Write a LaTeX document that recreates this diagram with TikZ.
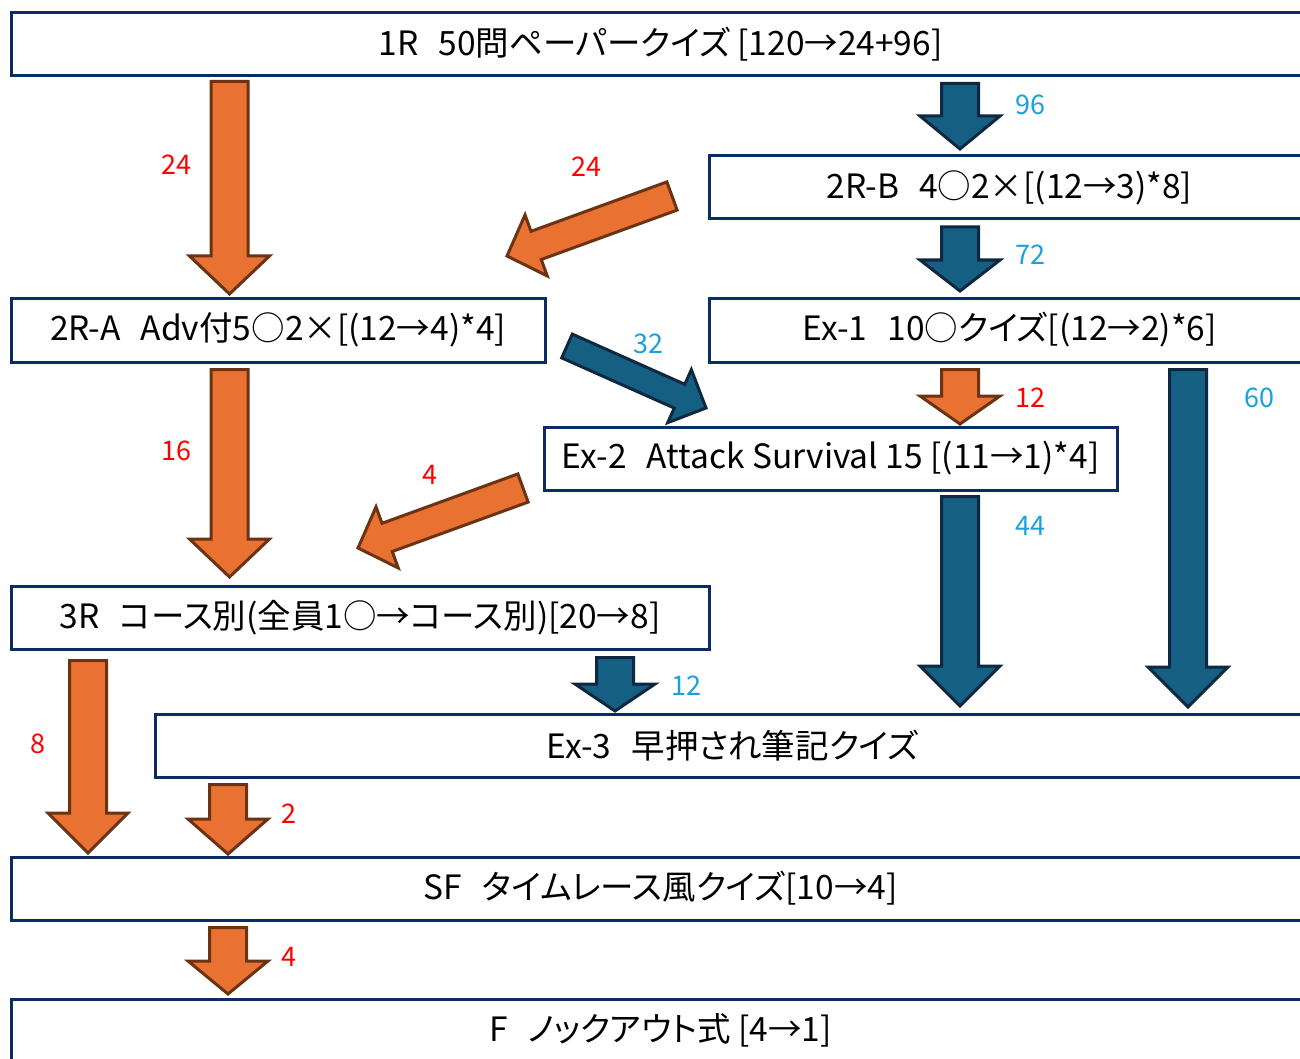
\documentclass[tikz,border=0pt]{standalone}
\usepackage{fontspec}
\setmainfont{Noto Sans CJK JP}[RawFeature=+palt]
\usetikzlibrary{calc}
\definecolor{orF}{HTML}{E97132}
\definecolor{orD}{HTML}{6B3312}
\definecolor{blF}{HTML}{156082}
\definecolor{blD}{HTML}{0E2841}
\definecolor{boxC}{HTML}{0C2A63}
\definecolor{labR}{HTML}{FF0000}
\definecolor{labB}{HTML}{1AA1DA}
\tikzset{
  stage/.style={draw=boxC, line width=3pt, fill=white, inner sep=0pt,
    font=\fontsize{33.5}{40}\selectfont, text=black},
  orarrow/.style={fill=orF, draw=orD, line width=3pt, line join=miter},
  blarrow/.style={fill=blF, draw=blD, line width=3pt, line join=miter},
  lr/.style={text=labR, font=\fontsize{27}{32}\selectfont, inner sep=0pt},
  lb/.style={text=labB, font=\fontsize{27}{32}\selectfont, inner sep=0pt},
}
% #1 style, #2 from, #3 tip, #4 half shaft, #5 half head, #6 head length
\newcommand{\blockarrow}[6]{%
  \coordinate (tmpH) at ($(#3)!#6!(#2)$);
  \draw[#1] ($(#2)!#4!90:(#3)$) -- ($(tmpH)!#4!90:(#3)$) -- ($(tmpH)!#5!90:(#3)$)
    -- (#3) -- ($(tmpH)!#5!-90:(#3)$) -- ($(tmpH)!#4!-90:(#3)$)
    -- ($(#2)!#4!-90:(#3)$) -- cycle;
}
\begin{document}
\begin{tikzpicture}[x=1pt,y=-1pt]
\useasboundingbox (0,0) rectangle (1300,1059);
% stages
\node[stage, minimum width=1299pt, minimum height=63pt] (r1) at (660.5,44.5) {1R\hspace{0.6em}50問ペーパークイズ [120→24+96]};
\node[stage, minimum width=601pt, minimum height=63pt] (r2b) at (1009.5,187.5) {2R-B\hspace{0.6em}4○2×[(12→3)*8]};
\node[stage, minimum width=534pt, minimum height=64pt] (r2a) at (278,330) {2R-A\hspace{0.6em}Adv付5○2×[(12→4)*4]};
\node[stage, minimum width=601pt, minimum height=64pt] (ex1) at (1009.5,330) {Ex-1\hspace{0.6em}10○クイズ[(12→2)*6]};
\node[stage, minimum width=573pt, minimum height=63pt] (ex2) at (830.5,458.5) {Ex-2\hspace{0.6em}Attack Survival 15 [(11→1)*4]};
\node[stage, minimum width=698pt, minimum height=63pt] (r3) at (360,617.5) {3R\hspace{0.6em}コース別(全員1○→コース別)[20→8]};
\node[stage, minimum width=1155pt, minimum height=63pt] (ex3) at (732.5,745.5) {Ex-3\hspace{0.6em}早押され筆記クイズ};
\node[stage, minimum width=1299pt, minimum height=63pt] (sf) at (660.5,888.5) {SF\hspace{0.6em}タイムレース風クイズ[10→4]};
\node[stage, minimum width=1299pt, minimum height=63pt] (fin) at (660.5,1030.5) {F\hspace{0.6em}ノックアウト式 [4→1]};
% arrow end points
\coordinate (a1s) at (229.5,81.5);  \coordinate (a1t) at (229.5,294);
\coordinate (a2s) at (960,83.5);    \coordinate (a2t) at (960,149);
\coordinate (a3s) at (960,227);     \coordinate (a3t) at (960,291);
\coordinate (d1s) at (672,196);     \coordinate (d1t) at (507,256);
\coordinate (d2s) at (567,346);     \coordinate (d2t) at (706,408);
\coordinate (a6s) at (960,369.5);   \coordinate (a6t) at (960,424);
\coordinate (a7s) at (1188,369.5);  \coordinate (a7t) at (1188,707);
\coordinate (a8s) at (229.5,369.5); \coordinate (a8t) at (229.5,577);
\coordinate (d3s) at (523,488);     \coordinate (d3t) at (358,548);
\coordinate (a10s) at (960,496.5);  \coordinate (a10t) at (960,706);
\coordinate (a11s) at (615,657.5);  \coordinate (a11t) at (615,711);
\coordinate (a12s) at (88,660.5);   \coordinate (a12t) at (88,853);
\coordinate (a13s) at (228,784.5);  \coordinate (a13t) at (228,854);
\coordinate (a14s) at (228,927.5);  \coordinate (a14t) at (228,994);
% arrows
\blockarrow{orarrow}{a1s}{a1t}{18.5pt}{40pt}{38pt}
\blockarrow{blarrow}{a2s}{a2t}{18.5pt}{40pt}{33pt}
\blockarrow{blarrow}{a3s}{a3t}{18.5pt}{40pt}{31pt}
\blockarrow{orarrow}{d1s}{d1t}{15pt}{32.5pt}{31pt}
\blockarrow{blarrow}{d2s}{d2t}{13pt}{29pt}{29pt}
\blockarrow{orarrow}{a6s}{a6t}{18.5pt}{40pt}{28pt}
\blockarrow{blarrow}{a7s}{a7t}{18.5pt}{40pt}{40pt}
\blockarrow{orarrow}{a8s}{a8t}{18.5pt}{40pt}{38pt}
\blockarrow{orarrow}{d3s}{d3t}{15pt}{32.5pt}{31pt}
\blockarrow{blarrow}{a10s}{a10t}{18.5pt}{40pt}{40pt}
\blockarrow{blarrow}{a11s}{a11t}{18.5pt}{40pt}{27pt}
\blockarrow{orarrow}{a12s}{a12t}{18.5pt}{40pt}{40pt}
\blockarrow{orarrow}{a13s}{a13t}{18.5pt}{40pt}{35pt}
\blockarrow{orarrow}{a14s}{a14t}{18.5pt}{40pt}{33pt}
% labels
\node[lr] (l1) at (176,165) {24};
\node[lb] (l2) at (1030,105) {96};
\node[lr] (l3) at (586,167) {24};
\node[lb] (l4) at (1030,255) {72};
\node[lb] (l5) at (648,344) {32};
\node[lr] (l6) at (1030,398) {12};
\node[lb] (l7) at (1259,398) {60};
\node[lr] (l8) at (176,451) {16};
\node[lr] (l9) at (430,475) {4};
\node[lb] (l10) at (1030,526) {44};
\node[lb] (l11) at (686,686) {12};
\node[lr] (l12) at (38,744) {8};
\node[lr] (l13) at (289,814) {2};
\node[lr] (l14) at (289,957) {4};
\end{tikzpicture}
\end{document}
